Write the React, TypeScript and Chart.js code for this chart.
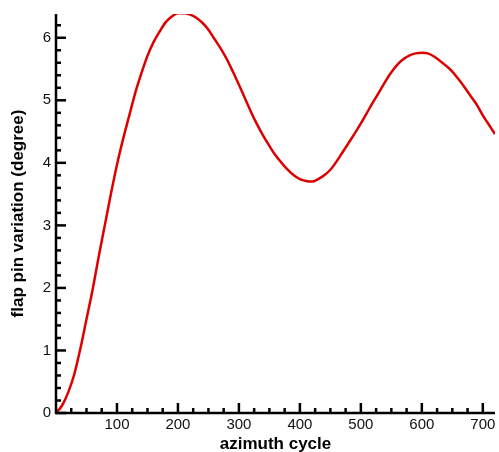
import React, { useEffect, useRef } from "react";
import { Chart, registerables } from "chart.js";

Chart.register(...registerables);

const azimuth = [0, 10, 20, 30, 40, 50, 60, 70, 80, 90, 100, 110, 120, 130, 140, 150, 160, 170, 180, 190, 200, 210, 220, 230, 240, 250, 260, 270, 280, 290, 300, 310, 320, 330, 340, 350, 360, 370, 380, 390, 400, 410, 420, 430, 440, 450, 460, 470, 480, 490, 500, 510, 520, 530, 540, 550, 560, 570, 580, 590, 600, 610, 620, 630, 640, 650, 660, 670, 680, 690, 700, 710, 720];
const flapPin = [0, 0.12, 0.33, 0.62, 1.03, 1.5, 1.97, 2.5, 3.0, 3.5, 3.97, 4.38, 4.75, 5.12, 5.43, 5.71, 5.93, 6.1, 6.25, 6.34, 6.39, 6.39, 6.37, 6.32, 6.24, 6.13, 5.98, 5.83, 5.66, 5.46, 5.25, 5.03, 4.81, 4.61, 4.43, 4.27, 4.12, 4.0, 3.89, 3.8, 3.74, 3.71, 3.7, 3.74, 3.8, 3.89, 4.02, 4.17, 4.32, 4.47, 4.63, 4.8, 4.97, 5.13, 5.3, 5.45, 5.57, 5.66, 5.72, 5.75, 5.76, 5.75, 5.7, 5.63, 5.55, 5.46, 5.34, 5.21, 5.07, 4.93, 4.76, 4.61, 4.46];

const xTitle = "azimuth cycle";
const yTitle = "flap pin variation (degree)";

export default function App() {
  const ref = useRef<HTMLCanvasElement | null>(null);

  useEffect(() => {
    if (!ref.current) return;
    const axisPlugin = {
      id: "axisPlugin",
      afterDraw(chart: any) {
        const ctx = chart.ctx;
        const xs = chart.scales.x;
        const ys = chart.scales.y;
        const ca = chart.chartArea;
        ctx.save();
        ctx.strokeStyle = "#000";
        ctx.lineWidth = 2.5;
        ctx.lineCap = "butt";
        ctx.beginPath();
        ctx.moveTo(ca.left, ca.top);
        ctx.lineTo(ca.left, ca.bottom);
        ctx.lineTo(ca.right, ca.bottom);
        ctx.stroke();
        for (let i = 0; i <= 31; i++) {
          const v = i * 0.2;
          if (v > ys.max + 1e-6) break;
          const py = ys.getPixelForValue(v);
          const major = i % 5 === 0;
          ctx.beginPath();
          ctx.moveTo(ca.left, py);
          ctx.lineTo(ca.left + (major ? 10 : 5), py);
          ctx.stroke();
        }
        for (let i = 1; i <= 28; i++) {
          const v = i * 25;
          if (v > xs.max + 1e-6) break;
          const px = xs.getPixelForValue(v);
          const major = i % 4 === 0;
          ctx.beginPath();
          ctx.moveTo(px, ca.bottom);
          ctx.lineTo(px, ca.bottom - (major ? 10 : 5));
          ctx.stroke();
        }
        ctx.fillStyle = "#000";
        ctx.font = "bold 17px 'Liberation Sans', Arial, sans-serif";
        ctx.textAlign = "center";
        ctx.textBaseline = "middle";
        ctx.fillText(xTitle, (ca.left + ca.right) / 2, 444);
        ctx.translate(18, (ca.top + ca.bottom) / 2);
        ctx.rotate(-Math.PI / 2);
        ctx.fillText(yTitle, 0, 0);
        ctx.restore();
      },
    };

    const tickFont = { size: 15, family: "'Liberation Sans', Arial, sans-serif" };
    const chart = new Chart(ref.current, {
      type: "line",
      data: {
        datasets: [
          {
            data: azimuth.map((a, i) => ({ x: a, y: flapPin[i] })),
            borderColor: "#dd0000",
            borderWidth: 2.5,
            pointRadius: 0,
            cubicInterpolationMode: "monotone",
            fill: false,
          },
        ],
      },
      options: {
        animation: false,
        responsive: false,
        maintainAspectRatio: false,
        layout: { padding: { top: 13, right: 4, left: 0, bottom: 0 } },
        plugins: { legend: { display: false }, tooltip: { enabled: false } },
        scales: {
          x: {
            type: "linear",
            min: 0,
            max: 720,
            grid: { display: false, drawTicks: false, tickLength: 0 },
            border: { display: false },
            ticks: {
              stepSize: 100,
              includeBounds: false,
              padding: 3,
              color: "#111",
              maxRotation: 0,
              font: tickFont,
              callback: (v: any) => (v === 0 ? "" : String(v)),
            },
            afterFit: (s: any) => {
              s.height = 39;
            },
          },
          y: {
            type: "linear",
            min: 0,
            max: 6.38,
            grid: { display: false, drawTicks: false, tickLength: 0 },
            border: { display: false },
            ticks: {
              stepSize: 1,
              includeBounds: false,
              padding: 5,
              color: "#111",
              font: tickFont,
            },
            afterFit: (s: any) => {
              s.width = 56;
            },
          },
        },
      },
      plugins: [axisPlugin],
    });
    return () => chart.destroy();
  }, []);

  return (
    <div style={{ position: "fixed", left: 0, top: 0, width: 499, height: 452, background: "#fff" }}>
      <canvas ref={ref} width={499} height={452} style={{ width: 499, height: 452 }} />
    </div>
  );
}
